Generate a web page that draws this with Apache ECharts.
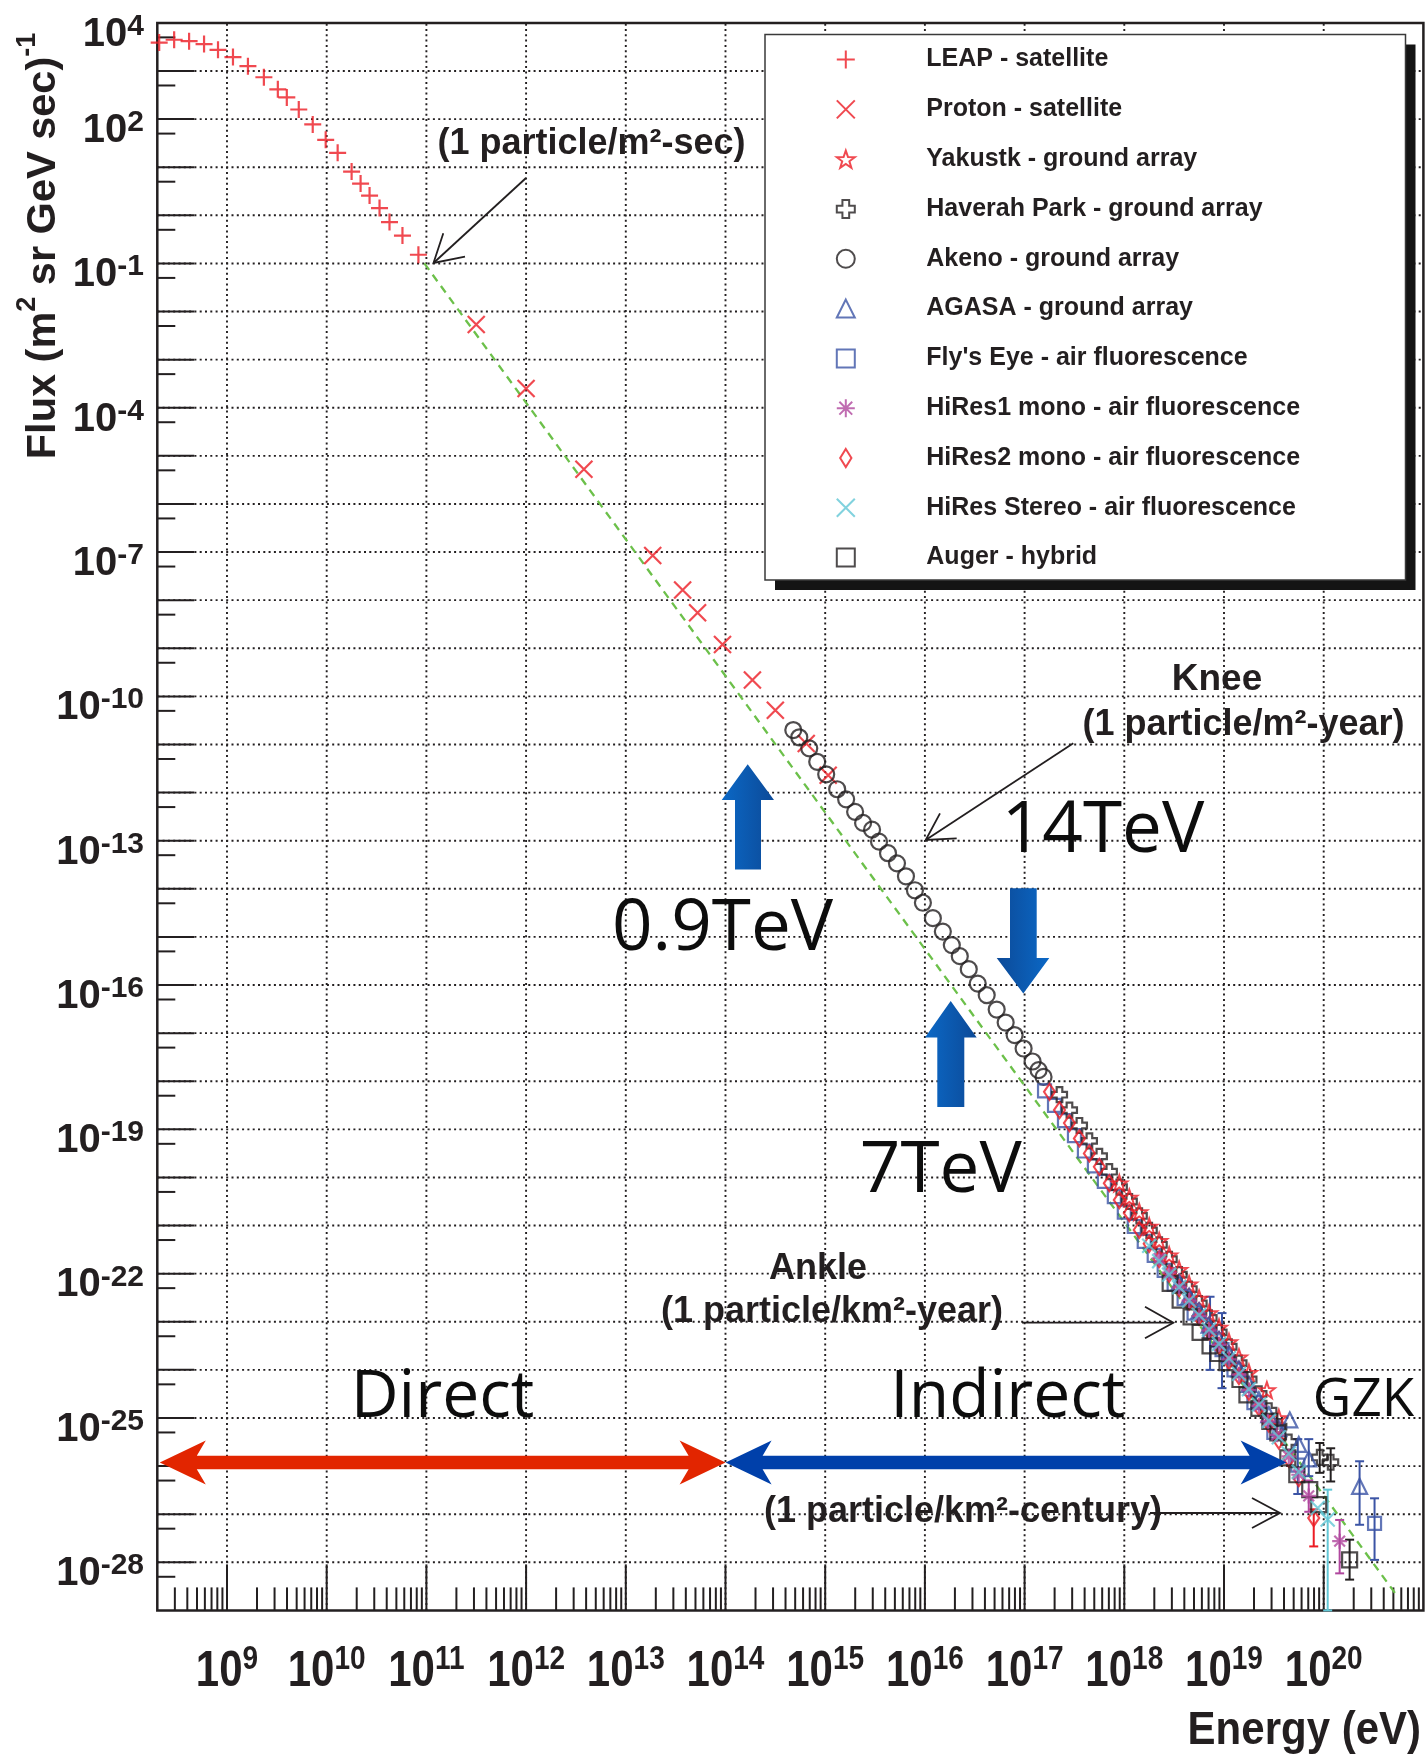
<!DOCTYPE html>
<html>
<head>
<meta charset="utf-8">
<script src="https://cdn.jsdelivr.net/npm/echarts@6/dist/echarts.min.js"></script>
<style>
  html, body { margin: 0; padding: 0; background: #ffffff; }
  #chart { width: 1425px; height: 1754px; }
</style>
</head>
<body>
<div id="chart"></div>
<script>
// Cosmic-ray all-particle spectrum. Every point is stored as
// [log10(energy / eV), log10(flux / (m^2 sr GeV sec)^-1)].

const xLabelExponents = [9, 10, 11, 12, 13, 14, 15, 16, 17, 18, 19, 20];
const yLabelExponents = [4, 2, -1, -4, -7, -10, -13, -16, -19, -22, -25, -28];

const leapData = [
  [8.32, 3.59], [8.47, 3.65], [8.62, 3.62], [8.77, 3.56], [8.91, 3.44], [9.06, 3.29],
  [9.21, 3.10], [9.37, 2.87], [9.51, 2.62], [9.60, 2.45], [9.72, 2.20], [9.86, 1.89],
  [9.99, 1.57], [10.11, 1.30], [10.25, 0.91], [10.34, 0.66], [10.43, 0.41], [10.53, 0.15],
  [10.63, -0.14], [10.76, -0.42], [10.92, -0.82]
];

const protonData = [
  [11.50, -2.27], [12.00, -3.60], [12.58, -5.28], [13.27, -7.07], [13.57, -7.79],
  [13.72, -8.26], [13.97, -8.92], [14.27, -9.66], [14.50, -10.29], [14.81, -10.98], [15.03, -11.64]
];

const akenoData = [
  [14.68, -10.70], [14.74, -10.85], [14.84, -11.08], [14.92, -11.36], [15.01, -11.62],
  [15.12, -11.93], [15.21, -12.14], [15.30, -12.40], [15.38, -12.63], [15.47, -12.77],
  [15.54, -13.02], [15.63, -13.26], [15.72, -13.47], [15.81, -13.74], [15.90, -14.03],
  [15.98, -14.29], [16.08, -14.61], [16.18, -14.89], [16.27, -15.17], [16.35, -15.40],
  [16.44, -15.67], [16.53, -15.97], [16.62, -16.21], [16.72, -16.51], [16.81, -16.78],
  [16.90, -17.04], [16.99, -17.32], [17.08, -17.59], [17.14, -17.77], [17.19, -17.91]
];

const flysEyeData = [
  [17.20, -18.20], [17.30, -18.50], [17.40, -18.82], [17.50, -19.13], [17.60, -19.45],
  [17.70, -19.76], [17.80, -20.08], [17.90, -20.40], [18.00, -20.72], [18.10, -21.02],
  [18.20, -21.33], [18.30, -21.62], [18.40, -21.93], [18.50, -22.22], [18.60, -22.52],
  [18.70, -22.82], [18.86, -23.22], [18.98, -23.58], [19.10, -24.00], [19.30, -24.68],
  [19.50, -25.30], [19.74, -25.98], [20.51, -27.19]
];
const flysEyeErr = [[18.86, -22.48, -24.00], [18.98, -22.82, -24.38], [19.74, -25.44, -26.58], [20.51, -26.67, -27.95]];

const hires2Data = [
  [17.25, -18.22], [17.35, -18.60], [17.45, -18.87], [17.55, -19.19], [17.65, -19.50],
  [17.75, -19.78], [17.85, -20.12], [17.95, -20.47], [18.05, -20.74], [18.15, -21.09],
  [18.25, -21.38], [18.35, -21.70], [18.45, -22.00], [18.55, -22.30], [18.65, -22.58],
  [18.75, -22.90], [18.85, -23.20], [18.95, -23.50], [19.05, -23.82], [19.15, -24.13],
  [19.25, -24.46], [19.35, -24.78], [19.45, -25.12], [19.55, -25.47], [19.65, -25.85],
  [19.75, -26.25], [19.90, -27.08]
];
const hires2Err = [[19.90, -26.90, -27.67]];

const haverahData = [
  [17.35, -18.28], [17.45, -18.60], [17.55, -18.92], [17.65, -19.24], [17.75, -19.56],
  [17.85, -19.88], [17.95, -20.20], [18.05, -20.50], [18.15, -20.80], [18.25, -21.10],
  [18.35, -21.40], [18.45, -21.70], [18.55, -22.02], [18.65, -22.32], [18.75, -22.62],
  [18.85, -22.92], [18.95, -23.22], [19.05, -23.52], [19.15, -23.86], [19.25, -24.20],
  [19.35, -24.50], [19.45, -24.85], [19.55, -25.18], [19.65, -25.50], [19.96, -25.82], [20.07, -25.92]
];
const haverahErr = [[19.96, -25.52, -26.14], [20.07, -25.63, -26.32]];

const augerData = [
  [18.46, -22.20], [18.56, -22.55], [18.67, -22.90], [18.76, -23.22], [18.86, -23.50],
  [18.94, -23.66], [19.03, -23.85], [19.16, -24.20], [19.23, -24.52], [19.35, -24.80],
  [19.46, -25.07], [19.54, -25.31], [19.64, -25.83], [19.73, -26.18], [19.86, -26.49],
  [19.95, -26.80], [20.26, -27.95]
];
const augerErr = [[20.26, -27.53, -28.36]];

const agasaData = [
  [18.55, -22.18], [18.65, -22.47], [18.75, -22.77], [18.85, -23.07], [18.95, -23.37],
  [19.05, -23.67], [19.15, -23.98], [19.25, -24.30], [19.35, -24.62], [19.45, -24.93],
  [19.55, -25.22], [19.66, -25.04], [19.75, -25.55], [19.85, -25.85], [20.36, -26.42]
];
const agasaErr = [[19.85, -25.44, -26.21], [20.36, -25.90, -27.22]];

const yakutskData = [
  [17.95, -20.12], [18.05, -20.42], [18.15, -20.72], [18.25, -21.02], [18.35, -21.32],
  [18.45, -21.62], [18.55, -21.92], [18.65, -22.22], [18.75, -22.52], [18.85, -22.82],
  [18.95, -23.12], [19.05, -23.42], [19.15, -23.74], [19.25, -24.06], [19.43, -24.42], [19.55, -25.00]
];

const hires1Data = [
  [18.35, -21.68], [18.45, -21.98], [18.55, -22.28], [18.65, -22.56], [18.75, -22.88],
  [18.85, -23.18], [18.95, -23.48], [19.05, -23.78], [19.15, -24.10], [19.25, -24.42],
  [19.35, -24.75], [19.44, -25.07], [19.53, -25.35], [19.65, -25.80], [19.75, -26.18],
  [19.85, -26.62], [20.16, -27.56]
];
const hires1Err = [[19.85, -26.30, -26.95], [20.16, -27.12, -28.23]];

const hiresStereoData = [
  [18.25, -21.42], [18.35, -21.74], [18.45, -22.02], [18.55, -22.28], [18.65, -22.56],
  [18.75, -22.86], [18.85, -23.16], [18.95, -23.46], [19.05, -23.76], [19.15, -24.08],
  [19.25, -24.40], [19.35, -24.72], [19.45, -25.06], [19.55, -25.40], [19.65, -25.74],
  [19.75, -26.12], [19.94, -26.87], [20.04, -27.11]
];
const hiresStereoErr = [[20.04, -26.49, -29.00]];

// power-law guide drawn as a dashed green line
const spectrumLine = [[10.98, -1.00], [20.74, -28.71]];

// ---------------------------------------------------------------------------
const FONT = '"Liberation Sans", Arial, Helvetica, sans-serif';
const FONT_BIG = '"Open Sans", "Noto Sans", sans-serif';
const INK = '#231f20';
const RED = '#ec1c24';
const BLUE = '#3b54a5';
const MAGENTA = '#b0479e';
const CYAN = '#62c7d6';

const X_MIN = Math.log10(2e8), X_MAX = 21;
const Y_MIN = -29, Y_MAX = 4;

const xGridDecades = [];
for (let n = 9; n <= 20; n++) xGridDecades.push(n);
const yGridDecades = [];
for (let n = -28; n <= 3; n++) yGridDecades.push(n);
const xMinorTicks = [];
for (let n = 8; n <= 20; n++) {
  for (let k = 2; k <= 9; k++) {
    const v = n + Math.log10(k);
    if (v > X_MIN + 1e-6 && v < X_MAX) xMinorTicks.push(v);
  }
}
const yMinorTicks = [];
for (let n = -28; n <= 4; n++) yMinorTicks.push(n - Math.log10(2));

const SYM = {
  plus: 'path://M0,8H16M8,0V16',
  cross: 'path://M0,0L16,16M16,0L0,16',
  star: 'path://M10,0L12.35,6.76L19.51,6.91L13.8,11.24L15.88,18.09L10,14L4.12,18.09L6.2,11.24L0.49,6.91L7.65,6.76Z',
  greek: 'path://M5,0H11V5H16V11H11V16H5V11H0V5H5Z',
  asterisk: 'path://M8,0V16M0,8H16M2.3,2.3L13.7,13.7M13.7,2.3L2.3,13.7',
  diamond: 'path://M5,0L10,8L5,16L0,8Z'
};

function markerSeries(name, data, symbol, size, color, width) {
  return {
    name, type: 'scatter', data, symbol, symbolSize: size, z: 3, silent: true,
    itemStyle: { color: 'rgba(0,0,0,0)', borderColor: color, borderWidth: width },
    emphasis: { disabled: true }
  };
}

function errorSeries(id, rows, color) {
  return {
    name: id, type: 'custom', z: 3, silent: true, data: rows,
    renderItem(params, api) {
      const x = api.value(0);
      const hi = api.coord([x, api.value(1)]);
      const lo = api.coord([x, api.value(2)]);
      const w = 4.5;
      const st = { stroke: color, lineWidth: 2 };
      return { type: 'group', children: [
        { type: 'line', shape: { x1: hi[0], y1: hi[1], x2: lo[0], y2: lo[1] }, style: st },
        { type: 'line', shape: { x1: hi[0] - w, y1: hi[1], x2: hi[0] + w, y2: hi[1] }, style: st },
        { type: 'line', shape: { x1: lo[0] - w, y1: lo[1], x2: lo[0] + w, y2: lo[1] }, style: st }
      ] };
    }
  };
}

// frame decorations: dotted decade grid and inward ticks
const dotted = { stroke: INK, lineWidth: 1.9, lineDash: [2, 3.3] };
const tickStyle = { stroke: INK, lineWidth: 2 };
const decorSeries = [
  {
    name: 'x-grid', type: 'custom', z: 1, silent: true,
    data: xGridDecades.map(v => [v, Y_MIN]),
    renderItem(params, api) {
      const b = api.coord([api.value(0), Y_MIN]);
      const t = api.coord([api.value(0), Y_MAX]);
      return { type: 'group', children: [
        { type: 'line', shape: { x1: b[0], y1: b[1], x2: t[0], y2: t[1] }, style: dotted },
        { type: 'line', shape: { x1: b[0], y1: b[1], x2: b[0], y2: b[1] - 46 }, style: tickStyle }
      ] };
    }
  },
  {
    name: 'x-minor', type: 'custom', z: 1, silent: true,
    data: xMinorTicks.map(v => [v, Y_MIN]),
    renderItem(params, api) {
      const b = api.coord([api.value(0), Y_MIN]);
      return { type: 'line', shape: { x1: b[0], y1: b[1], x2: b[0], y2: b[1] - 23 }, style: tickStyle };
    }
  },
  {
    name: 'y-grid', type: 'custom', z: 1, silent: true,
    data: yGridDecades.map(v => [X_MIN, v]),
    renderItem(params, api) {
      const l = api.coord([X_MIN, api.value(1)]);
      const r = api.coord([X_MAX, api.value(1)]);
      return { type: 'group', children: [
        { type: 'line', shape: { x1: l[0], y1: l[1], x2: r[0], y2: r[1] }, style: dotted },
        { type: 'line', shape: { x1: l[0], y1: l[1], x2: l[0] + 37, y2: l[1] }, style: tickStyle }
      ] };
    }
  },
  {
    name: 'y-minor', type: 'custom', z: 1, silent: true,
    data: yMinorTicks.map(v => [X_MIN, v]),
    renderItem(params, api) {
      const l = api.coord([X_MIN, api.value(1)]);
      return { type: 'line', shape: { x1: l[0], y1: l[1], x2: l[0] + 18, y2: l[1] }, style: tickStyle };
    }
  }
];

const legendNames = [
  'LEAP - satellite', 'Proton - satellite', 'Yakustk - ground array', 'Haverah Park - ground array',
  'Akeno - ground array', 'AGASA - ground array', "Fly's Eye - air fluorescence",
  'HiRes1 mono - air fluorescence', 'HiRes2 mono - air fluorescence',
  'HiRes Stereo - air fluorescence', 'Auger - hybrid'
];

const option = {
  animation: false,
  backgroundColor: '#ffffff',
  grid: {
    left: 157.3, top: 22.9, width: 1266.1, height: 1587.5,
    show: true, borderColor: INK, borderWidth: 2.5, backgroundColor: 'rgba(0,0,0,0)',
    outerBoundsMode: 'none'
  },
  xAxis: { type: 'value', min: X_MIN, max: X_MAX, show: false },
  yAxis: { type: 'value', min: Y_MIN, max: Y_MAX, show: false },
  legend: {
    data: legendNames, orient: 'vertical', left: 835.8, top: 44.6, padding: 0,
    itemWidth: 18, itemHeight: 18, itemGap: 19.8, selectedMode: false, z: 6,
    textStyle: {
      fontFamily: FONT, fontWeight: 'bold', fontSize: 25, color: INK,
      lineHeight: 30, padding: [0, 0, 0, 66.5]
    }
  },
  series: [
    ...decorSeries,
    {
      name: 'power law', type: 'line', data: spectrumLine, symbol: 'none', z: 2, silent: true,
      lineStyle: { color: '#6cc04a', width: 2.3, type: [8, 6] }
    },
    markerSeries('LEAP - satellite', leapData, SYM.plus, 17, RED, 2.2),
    markerSeries('Proton - satellite', protonData, SYM.cross, 17, RED, 2.2),
    markerSeries('Akeno - ground array', akenoData, 'circle', 16, INK, 2.2),
    markerSeries("Fly's Eye - air fluorescence", flysEyeData, 'rect', 13, BLUE, 2.2),
    errorSeries('fly-err', flysEyeErr, BLUE),
    markerSeries('Haverah Park - ground array', haverahData, SYM.greek, 15, INK, 2.2),
    errorSeries('haverah-err', haverahErr, INK),
    markerSeries('HiRes2 mono - air fluorescence', hires2Data, SYM.diamond, [11, 16], RED, 2.2),
    errorSeries('hires2-err', hires2Err, RED),
    markerSeries('Yakustk - ground array', yakutskData, SYM.star, 16, RED, 2),
    markerSeries('AGASA - ground array', agasaData, 'triangle', 15, BLUE, 2.2),
    errorSeries('agasa-err', agasaErr, BLUE),
    markerSeries('Auger - hybrid', augerData, 'rect', 15, INK, 2.2),
    errorSeries('auger-err', augerErr, INK),
    markerSeries('HiRes1 mono - air fluorescence', hires1Data, SYM.asterisk, 15, MAGENTA, 2.2),
    errorSeries('hires1-err', hires1Err, MAGENTA),
    markerSeries('HiRes Stereo - air fluorescence', hiresStereoData, SYM.cross, 14, CYAN, 2.2),
    errorSeries('stereo-err', hiresStereoErr, CYAN)
  ]
};

const chart = echarts.init(document.getElementById('chart'), null, { renderer: 'canvas', width: 1425, height: 1754 });
chart.setOption(option);

const toPx = (x, y) => chart.convertToPixel({ gridIndex: 0 }, [x, y]);

// ---- axis labels, titles and annotations ---------------------------------
const g = [];

// legend frame with a solid drop shadow
g.push({ type: 'rect', z: 4, silent: true, shape: { x: 775, y: 44.5, width: 640.5, height: 545.5 }, style: { fill: '#141414' } });
g.push({ type: 'rect', z: 5, silent: true, shape: { x: 765, y: 34.5, width: 640.5, height: 545.5 }, style: { fill: '#ffffff', stroke: '#3a3a3a', lineWidth: 1.5 } });

function powerLabel(exp, x, y, align, big, small, lineH, stretchY) {
  return {
    type: 'text', z: 5, silent: true, x, y, scaleY: stretchY || 1,
    style: {
      text: '{b|10}{s|' + exp + '}', align, verticalAlign: 'top',
      rich: {
        b: { fontFamily: FONT, fontWeight: 'bold', fontSize: big, fill: INK, lineHeight: lineH, verticalAlign: 'bottom' },
        s: { fontFamily: FONT, fontWeight: 'bold', fontSize: small, fill: INK, lineHeight: small, verticalAlign: 'top' }
      }
    }
  };
}

// energy labels use a taller, narrower face than the flux labels
xLabelExponents.forEach(e => {
  const p = toPx(e, Y_MIN);
  g.push(powerLabel(e, p[0], 1643, 'center', 42, 28, 45, 1.2));
});
yLabelExponents.forEach(e => {
  const p = toPx(X_MIN, e);
  g.push(powerLabel(e, 144, p[1] - 11.2, 'right', 40, 30, 43));
});

g.push({
  type: 'text', z: 5, silent: true, x: 1421, y: 1731, scaleY: 1.08,
  style: { text: 'Energy (eV)', fontFamily: FONT, fontWeight: 'bold', fontSize: 42, fill: INK, align: 'right', verticalAlign: 'middle' }
});
g.push({
  type: 'text', z: 5, silent: true, x: 39.5, y: 246, rotation: Math.PI / 2,
  style: {
    text: '{t|Flux (m}{s|2}{t| sr GeV sec)}{s|-1}', align: 'center', verticalAlign: 'middle',
    rich: {
      t: { fontFamily: FONT, fontWeight: 'bold', fontSize: 41.5, fill: INK, lineHeight: 50, verticalAlign: 'bottom' },
      s: { fontFamily: FONT, fontWeight: 'bold', fontSize: 27, fill: INK, lineHeight: 27, verticalAlign: 'top' }
    }
  }
});

function note(text, x, y, size) {
  return {
    type: 'text', z: 10, silent: true, x, y,
    style: { text, fontFamily: FONT, fontWeight: 'bold', fontSize: size || 36, fill: INK, align: 'center', verticalAlign: 'middle' }
  };
}
function bigNote(text, x, y, size) {
  return {
    type: 'text', z: 10, silent: true, x, y,
    style: { text, fontFamily: FONT_BIG, fontWeight: 'normal', fontSize: size, fill: '#0d0d0d', align: 'center', verticalAlign: 'middle' }
  };
}
function thinArrow(x1, y1, x2, y2, b1, b2) {
  const st = { stroke: INK, lineWidth: 1.8, fill: null };
  return [
    { type: 'line', z: 10, silent: true, shape: { x1, y1, x2, y2 }, style: st },
    { type: 'polyline', z: 10, silent: true, shape: { points: [b1, [x2, y2], b2] }, style: st }
  ];
}
function blockArrow(tip, baseY, headL, headR, shaftL, shaftR, endY, stops) {
  return {
    type: 'polygon', z: 9, silent: true,
    shape: { points: [tip, [headR, baseY], [shaftR, baseY], [shaftR, endY], [shaftL, endY], [shaftL, baseY], [headL, baseY]] },
    style: { fill: { type: 'linear', x: 0, y: 0, x2: 1, y2: 0, colorStops: stops } }
  };
}
function doubleArrow(x0, x1, cy, color) {
  const hl = 46, nb = 37, hh = 22, sh = 6.8;
  return {
    type: 'polygon', z: 9, silent: true,
    shape: { points: [
      [x0, cy], [x0 + hl, cy - hh], [x0 + nb, cy - sh], [x1 - nb, cy - sh], [x1 - hl, cy - hh],
      [x1, cy], [x1 - hl, cy + hh], [x1 - nb, cy + sh], [x0 + nb, cy + sh], [x0 + hl, cy + hh]
    ] },
    style: { fill: color }
  };
}

const upStops = [{ offset: 0, color: '#0b68c6' }, { offset: 1, color: '#0c4a98' }];
const downStops = [{ offset: 0, color: '#0c4a98' }, { offset: 1, color: '#0b68c6' }];

g.push(note('(1 particle/m²-sec)', 591.5, 144));
g.push(...thinArrow(526, 178, 433.5, 263, [443.3, 233.3], [465, 256.7]));

g.push(note('Knee', 1217, 680, 37));
g.push(note('(1 particle/m²-year)', 1243.5, 725));
g.push(...thinArrow(1073.3, 743.3, 925.7, 840, [940, 813.3], [956.7, 838.3]));

g.push(note('Ankle', 818, 1269));
g.push(note('(1 particle/km²-year)', 832, 1312));
g.push(...thinArrow(1022, 1322.7, 1173.3, 1322.7, [1145, 1306.7], [1145, 1338.3]));

g.push(note('(1 particle/km²-century)', 963, 1512));
g.push(...thinArrow(1150, 1513, 1280, 1513, [1252, 1498], [1252, 1528]));

g.push(blockArrow([747.7, 764.3], 800, 721.7, 774, 735, 761, 869.6, upStops));
g.push(blockArrow([1023.3, 993.6], 957.9, 996.7, 1049.3, 1010, 1036.7, 888.2, downStops));
g.push(blockArrow([950.7, 1001], 1037.5, 925, 976.7, 937.3, 964.3, 1107, upStops));

g.push(bigNote('0.9TeV', 722.5, 930, 71));
g.push(bigNote('14TeV', 1103, 832, 71));
g.push(bigNote('7TeV', 940.8, 1172, 71));

g.push(doubleArrow(159.8, 725.6, 1462.5, '#e22500'));
g.push(doubleArrow(725.6, 1286.6, 1462.5, '#0040aa'));
g.push(bigNote('Direct', 442.5, 1398, 66));
g.push(bigNote('Indirect', 1007.8, 1398, 66));
g.push(bigNote('GZK', 1363.5, 1401, 53));

chart.setOption({ graphic: g });
</script>
</body>
</html>
